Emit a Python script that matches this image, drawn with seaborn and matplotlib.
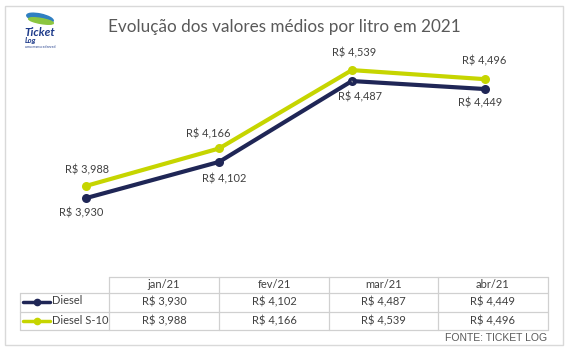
import matplotlib
matplotlib.use("Agg")
import matplotlib.pyplot as plt
import seaborn as sns
import pandas as pd
from matplotlib.patches import Rectangle, Ellipse
from matplotlib.lines import Line2D

# ---- data ----
months = ["jan/21", "fev/21", "mar/21", "abr/21"]
series_names = ["Diesel", "Diesel S-10"]
diesel = [3.930, 4.102, 4.487, 4.449]
diesel_s10 = [3.988, 4.166, 4.539, 4.496]
title = "Evolução dos valores médios por litro em 2021"
source = "FONTE: TICKET LOG"

colors = {"Diesel": "#1f2656", "Diesel S-10": "#c6d500"}

sns.set_theme(style="white")
plt.rcParams["font.family"] = ["Lato", "DejaVu Sans"]

def brl(v):
    return "R$ " + f"{v:.3f}".replace(".", ",")

df = pd.DataFrame({
    "mes": months * 2,
    "x": list(range(len(months))) * 2,
    "serie": [series_names[0]] * len(months) + [series_names[1]] * len(months),
    "valor": diesel + diesel_s10,
})

W, H = 571, 351
fig = plt.figure(figsize=(W / 100, H / 100), dpi=100)
fig.patch.set_facecolor("white")

# overlay axes in pixel coordinates
ov = fig.add_axes([0, 0, 1, 1])
ov.set_xlim(0, W)
ov.set_ylim(H, 0)
ov.axis("off")

# main plot axes (pixel box x 20..551, y 50..260)
ax = fig.add_axes([20 / W, 1 - 260 / H, 531 / W, 210 / H])
sns.lineplot(data=df, x="x", y="valor", hue="serie", palette=colors,
             marker="o", markersize=6.5, markeredgewidth=0, linewidth=3,
             ax=ax, legend=False)
ax.set_xlim(-0.5, 3.5)
ax.set_ylim(3.6348, 4.6348)
ax.axis("off")
ax.patch.set_alpha(0)

# data labels (offsets in pixels: dx, dy-down)
offs_d = [(-5, 15), (5, 17), (8, 16), (-5, 14)]
offs_s = [(1, -16), (-11, -15), (2, -17), (0, -18)]
lab_kw = dict(textcoords="offset points", ha="center", va="center",
              fontsize=7.9, color="#404040")
for i, v in enumerate(diesel):
    dx, dy = offs_d[i]
    a = dict(arrowstyle="-", color="#a6a6a6", lw=0.7, shrinkA=5, shrinkB=3) if i == 2 else None
    ax.annotate(brl(v), (i, v), xytext=(dx * 0.72, -dy * 0.72), arrowprops=a, **lab_kw)
for i, v in enumerate(diesel_s10):
    dx, dy = offs_s[i]
    a = dict(arrowstyle="-", color="#a6a6a6", lw=0.7, shrinkA=5, shrinkB=3) if i == 1 else None
    ax.annotate(brl(v), (i, v), xytext=(dx * 0.72, -dy * 0.72), arrowprops=a, **lab_kw)

# outer border
ov.add_patch(Rectangle((5, 5.5), 558, 339.5, fill=False, ec="#d9d9d9", lw=1))

# title
ov.text(284, 27, title, ha="center", va="center", fontsize=12.3, color="#595959")

# logo
ov.add_patch(Ellipse((40, 18), 27, 8, angle=12, color="#2f7fc1"))
ov.add_patch(Ellipse((41, 21), 25, 5, angle=10, color="#8cc63f"))
ov.text(24, 33, "Ticket", fontsize=8.5, fontweight="bold", style="italic",
        color="#1d3a8a", va="center", ha="left")
ov.text(25, 41, "Log", fontsize=5.5, fontweight="bold", style="italic",
        color="#1d3a8a", va="center", ha="left")
ov.text(25, 47, "uma marca edenred", fontsize=2.5, color="#1d3a8a",
        va="center", ha="left")

# data table
lc = "#d0d0d0"
col_x = [109, 219, 329, 438, 548]
row_y = [277.3, 292.7, 311.7, 330]
ov.add_line(Line2D([109, 548], [row_y[0]] * 2, color=lc, lw=0.9))
for y in row_y[1:]:
    ov.add_line(Line2D([20, 548], [y, y], color=lc, lw=0.9))
ov.add_line(Line2D([20, 20], [row_y[1], row_y[3]], color=lc, lw=0.9))
for x in col_x:
    ov.add_line(Line2D([x, x], [row_y[0], row_y[3]], color=lc, lw=0.9))

tc = "#404040"
for j, m in enumerate(months):
    cx = (col_x[j] + col_x[j + 1]) / 2
    ov.text(cx, 285, m, ha="center", va="center", fontsize=8, color=tc)
    ov.text(cx, 302, brl(diesel[j]), ha="center", va="center", fontsize=8, color=tc)
    ov.text(cx, 321, brl(diesel_s10[j]), ha="center", va="center", fontsize=8, color=tc)

for name, y in zip(series_names, [302, 321]):
    ov.add_line(Line2D([23, 50], [y, y], color=colors[name], lw=2.5))
    ov.plot([37], [y], marker="o", markersize=4.5, color=colors[name])
    ov.text(52, y - 1, name, ha="left", va="center", fontsize=8, color=tc)

ov.text(547, 338, source, ha="right", va="center", fontsize=7.5,
        color="#595959", family=["Liberation Sans", "DejaVu Sans"])

fig.savefig("out.png", dpi=100)
